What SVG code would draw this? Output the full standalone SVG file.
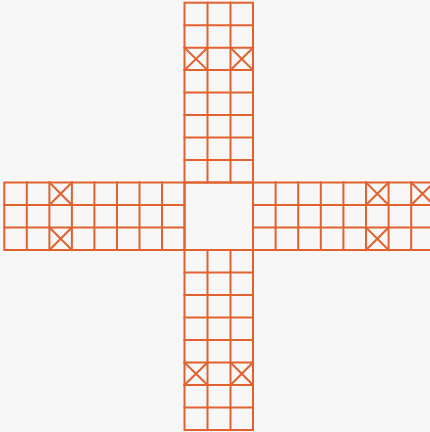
<svg xmlns="http://www.w3.org/2000/svg" width="430" height="432" viewBox="0 0 430 432">
<style>
.g{fill:none;stroke:#E2622F;stroke-width:2;stroke-linecap:square}
</style>
<rect width="430" height="432" fill="#F7F7F7"/>
<g id="top-arm" class="g">
<rect x="184.5" y="2.7" width="68.5" height="179.8"/>
<path d="M207.5 2.7V182.5M230.5 2.7V182.5"/>
<path d="M184.5 25.2H253M184.5 47.7H253M184.5 70.1H253M184.5 92.6H253M184.5 115.1H253M184.5 137.6H253M184.5 160.1H253"/>
<path d="M184.5 47.7L207.5 70.1M207.5 47.7L184.5 70.1M230.5 47.7L253 70.1M253 47.7L230.5 70.1"/>
</g>
<g id="left-arm" class="g">
<rect x="4.3" y="182.5" width="180.2" height="67.5"/>
<path d="M4.3 205H184.5M4.3 227.5H184.5"/>
<path d="M26.8 182.5V250M49.4 182.5V250M71.9 182.5V250M94.4 182.5V250M117 182.5V250M139.5 182.5V250M162 182.5V250"/>
<path d="M49.4 182.5L71.9 205M71.9 182.5L49.4 205M49.4 227.5L71.9 250M71.9 227.5L49.4 250"/>
</g>
<g id="center" class="g">
<rect x="184.5" y="182.5" width="68.5" height="67.5"/>
</g>
<g id="right-arm" class="g">
<rect x="253" y="182.5" width="180.8" height="67.5"/>
<path d="M253 205H433.8M253 227.5H433.8"/>
<path d="M275.6 182.5V250M298.2 182.5V250M320.8 182.5V250M343.4 182.5V250M366 182.5V250M388.6 182.5V250M411.2 182.5V250"/>
<path d="M366 182.5L388.6 205M388.6 182.5L366 205M366 227.5L388.6 250M388.6 227.5L366 250M411.2 182.5L433.8 205M433.8 182.5L411.2 205"/>
</g>
<g id="bottom-arm" class="g">
<rect x="184.5" y="250" width="68.5" height="180"/>
<path d="M207.5 250V430M230.5 250V430"/>
<path d="M184.5 272.5H253M184.5 295H253M184.5 317.5H253M184.5 340H253M184.5 362.5H253M184.5 385H253M184.5 407.5H253"/>
<path d="M184.5 362.5L207.5 385M207.5 362.5L184.5 385M230.5 362.5L253 385M253 362.5L230.5 385"/>
</g>
</svg>
